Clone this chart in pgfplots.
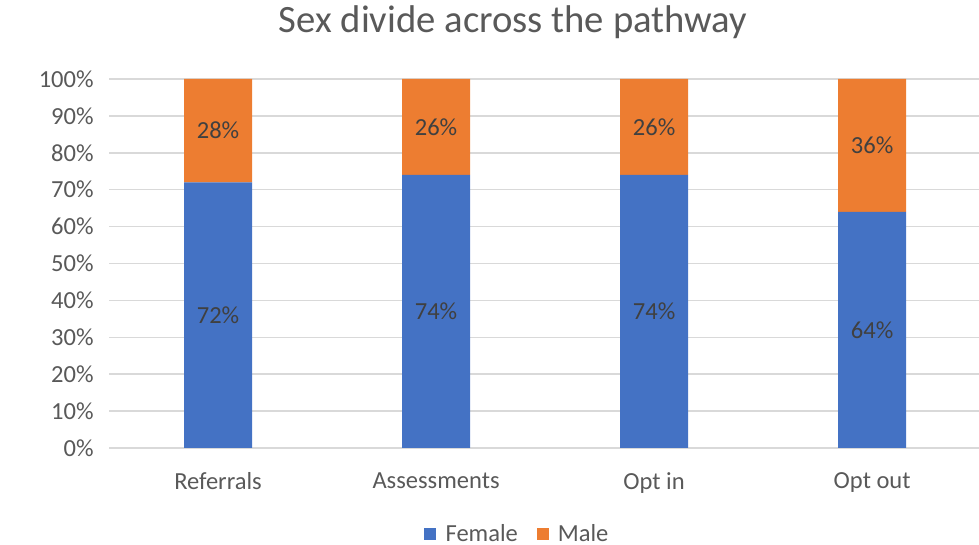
\documentclass[border=0pt]{standalone}
\usepackage{pgfplots}
\pgfplotsset{compat=1.18}
\usepackage{fontspec}
\setmainfont{Carlito}
\definecolor{femblue}{HTML}{4472C4}
\definecolor{maleorange}{HTML}{ED7D31}
\definecolor{txtgray}{HTML}{595959}
\definecolor{lblgray}{HTML}{404040}
\definecolor{gridgray}{HTML}{D9D9D9}
\begin{document}
\begin{tikzpicture}
% page frame: 979 x 545 px at 0.75pt per px
\useasboundingbox (0pt,0pt) rectangle (734.25pt,408.75pt);
\node[text=txtgray, font=\fontsize{29}{34}\selectfont] at (384.75pt,392.25pt) {Sex divide across the pathway};
\begin{axis}[
  at={(81.75pt,72.75pt)}, anchor=south west,
  scale only axis, width=652.5pt, height=276.75pt,
  ybar stacked, bar width=51pt,
  xmin=-0.5, xmax=3.49, ymin=0, ymax=100,
  xtick={0,1,2,3},
  xticklabels={Referrals,Assessments,Opt in,Opt out},
  ytick={0,10,...,100},
  yticklabel={\pgfmathprintnumber{\tick}\%},
  /pgf/number format/assume math mode=true,
  ymajorgrids, grid style={gridgray, line width=1.1pt},
  axis line style={draw=none},
  major tick length=0pt,
  tick label style={text=txtgray, font=\fontsize{18.4}{22}\selectfont},
  yticklabel style={xshift=-8pt},
  xticklabel style={yshift=-15pt},
  visualization depends on=rawy \as \rawy,
  nodes near coords={\pgfmathprintnumber{\rawy}\%},
  every node near coord/.append style={
    anchor=center, text=lblgray,
    font=\fontsize{18.4}{22}\selectfont,
    /pgf/number format/assume math mode=true},
  legend columns=2,
  legend style={draw=none, fill=none, text=txtgray, inner sep=0pt,
    nodes={inner sep=1pt},
    font=\fontsize{18.4}{22}\selectfont,
    at={(0.469,-0.232)}, anchor=center,
    /tikz/every odd column/.append style={column sep=6pt},
    /tikz/every even column/.append style={column sep=13pt}},
  legend image code/.code={\fill[#1] (0pt,-4.5pt) rectangle (9pt,4.5pt);},
]
\addplot[fill=femblue, draw=none] coordinates {(0,72) (1,74) (2,74) (3,64)};
\addlegendentry{Female}
\addplot[fill=maleorange, draw=none] coordinates {(0,28) (1,26) (2,26) (3,36)};
\addlegendentry{Male}
\end{axis}
\end{tikzpicture}
\end{document}
